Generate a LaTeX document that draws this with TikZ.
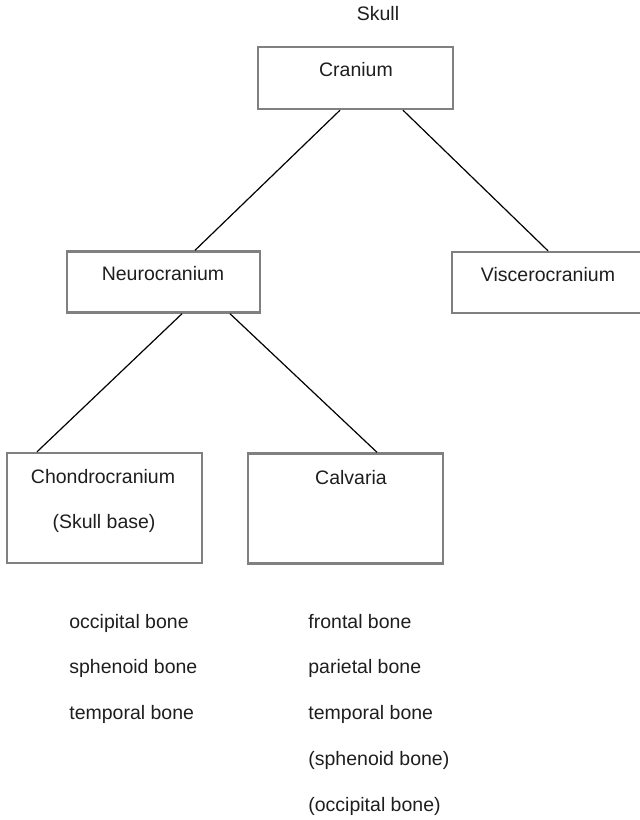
\documentclass[tikz,border=0pt]{standalone}
\usepackage{fontspec}
\setmainfont{Liberation Sans}
\usetikzlibrary{calc}
\definecolor{boxgray}{RGB}{128,128,128}
\definecolor{inkgray}{RGB}{30,30,30}
\tikzset{
	box/.style={draw=boxgray, line width=1.2pt, minimum width=97.5pt},
	txt/.style={text=inkgray, font=\fontsize{9.75}{11}\selectfont, inner sep=0pt},
	link/.style={draw=black, line width=0.6pt}
}

\begin{document}
\begin{tikzpicture}[x=0.5pt,y=-0.5pt]
		\useasboundingbox (0,0) rectangle (640,820);

		\node[box,minimum height=31pt] (cranium) at (355.5,78) {};
		\node[box,minimum height=30.5pt,minimum width=96.5pt] (neuro) at (163.5,282) {};
		\node[box,minimum height=30.5pt,minimum width=100pt] (viscero) at (552,282.5) {};
		\node[box,minimum height=55pt] (chondro) at (104.5,508) {};
		\node[box,minimum height=55pt] (calvaria) at (345.5,508.5) {};

		\node[txt,anchor=base] (skull) at (378,20) {Skull};
		\node[txt,anchor=base] (craniumtxt) at (356,76) {Cranium};
		\node[txt,anchor=base] (neurotxt) at (163,280) {Neurocranium};
		\node[txt,anchor=base] (viscerotxt) at (548,281) {Viscerocranium};
		\node[txt,anchor=base] (chondrotxt) at (103,483) {Chondrocranium};
		\node[txt,anchor=base] (basetxt) at (104,528) {(Skull base)};
		\node[txt,anchor=base] (calvariatxt) at (351,484) {Calvaria};

		\node[txt,anchor=base west] (occ) at (69,628) {occipital bone};
		\node[txt,anchor=base west] (sph) at (69,673) {sphenoid bone};
		\node[txt,anchor=base west] (tem) at (69,719) {temporal bone};

		\node[txt,anchor=base west] (fro) at (308,628) {frontal bone};
		\node[txt,anchor=base west] (par) at (308,673) {parietal bone};
		\node[txt,anchor=base west] (temb) at (308,719) {temporal bone};
		\node[txt,anchor=base west] (sphb) at (308,765) {(sphenoid bone)};
		\node[txt,anchor=base west] (occb) at (308,811) {(occipital bone)};

		\draw[link] ($(cranium.south)+(-15.5,0)$)--($(neuro.north)+(31.5,0)$);
		\draw[link] ($(cranium.south)+(47.5,0)$)--($(viscero.north)+(-4,0)$);
		\draw[link] ($(neuro.south)+(18.5,0)$)--($(chondro.north)+(-67.5,0)$);
		\draw[link] ($(neuro.south)+(66.5,0)$)--($(calvaria.north)+(31.5,0)$);
\end{tikzpicture}
\end{document}
